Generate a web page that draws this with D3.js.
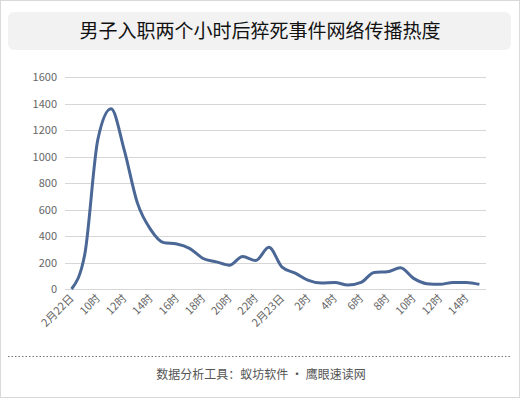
<!DOCTYPE html>
<html>
<head>
<meta charset="utf-8">
<script src="https://cdn.jsdelivr.net/npm/d3@7"></script>
<style>
  body { margin: 0; background: #fff; font-family: "Noto Sans CJK SC", "Noto Sans", sans-serif; }
</style>
</head>
<body>
<div id="chart"></div>
<script>
// hourly points, 2/22 8时 -> 2/23 15时
const hours = ["2月22日","9时","10时","11时","12时","13时","14时","15时","16时","17时","18时","19时","20时","21时","22时","23时",
               "2月23日","1时","2时","3时","4时","5时","6时","7时","8时","9时","10时","11时","12时","13时","14时","15时"];
const heat = [0,260,1130,1360,1050,650,450,350,340,305,230,205,180,245,215,315,
              165,120,65,45,50,30,50,125,130,160,80,40,35,50,50,35];
const yTicks = [0,200,400,600,800,1000,1200,1400,1600];

const W = 520, H = 398;
const plot = {left: 65, right: 486, top: 77, bottom: 289};

const svg = d3.select("#chart").append("svg")
    .attr("width", W).attr("height", H);

// outer frame
svg.append("rect")
    .attr("x", 0.5).attr("y", 0.5).attr("width", W - 1).attr("height", H - 1)
    .attr("fill", "#fff").attr("stroke", "#d9d9d9");

// title box
svg.append("rect")
    .attr("x", 8).attr("y", 12).attr("width", 503).attr("height", 38).attr("rx", 6)
    .attr("fill", "#f2f2f2");
svg.append("text")
    .attr("x", 260).attr("y", 38)
    .attr("text-anchor", "middle")
    .style("font-size", "19px").style("fill", "#111")
    .text("男子入职两个小时后猝死事件网络传播热度");

const x = d3.scaleBand().domain(d3.range(hours.length))
    .range([plot.left, plot.right]);
const y = d3.scaleLinear().domain([0, 1600]).range([plot.bottom, plot.top]);

// grid
svg.append("g")
    .selectAll("line").data(yTicks).enter().append("line")
    .attr("x1", plot.left).attr("x2", plot.right)
    .attr("y1", d => Math.round(y(d)) + 0.5).attr("y2", d => Math.round(y(d)) + 0.5)
    .attr("stroke", "#d6d6d6");

// y labels
svg.append("g")
    .selectAll("text").data(yTicks).enter().append("text")
    .attr("x", 57).attr("y", d => y(d) + 4)
    .attr("text-anchor", "end")
    .style("font-size", "11px").style("fill", "#666")
    .text(d => d);

// x labels every 2 hours
const cx = i => x(i) + x.bandwidth() / 2;
svg.append("g")
    .selectAll("text").data(d3.range(0, hours.length, 2)).enter().append("text")
    .attr("transform", i => `translate(${cx(i) + 3},${plot.bottom + 10}) rotate(-45)`)
    .attr("text-anchor", "end")
    .style("font-size", "11px").style("fill", "#666")
    .text(i => hours[i]);

// line
const line = d3.line()
    .x((d, i) => cx(i))
    .y(d => y(d))
    .curve(d3.curveMonotoneX);
svg.append("path")
    .datum(heat)
    .attr("d", line)
    .attr("fill", "none")
    .attr("stroke", "#4a6796")
    .attr("stroke-width", 3)
    .attr("stroke-linejoin", "round");

// footer
svg.append("line")
    .attr("x1", 8).attr("x2", 512).attr("y1", 356.5).attr("y2", 356.5)
    .attr("stroke", "#777").attr("stroke-dasharray", "1.5,2");
svg.append("text")
    .attr("x", 261).attr("y", 379)
    .attr("text-anchor", "middle")
    .style("font-size", "12px").style("fill", "#555")
    .text("数据分析工具：蚁坊软件 · 鹰眼速读网");
</script>
</body>
</html>
